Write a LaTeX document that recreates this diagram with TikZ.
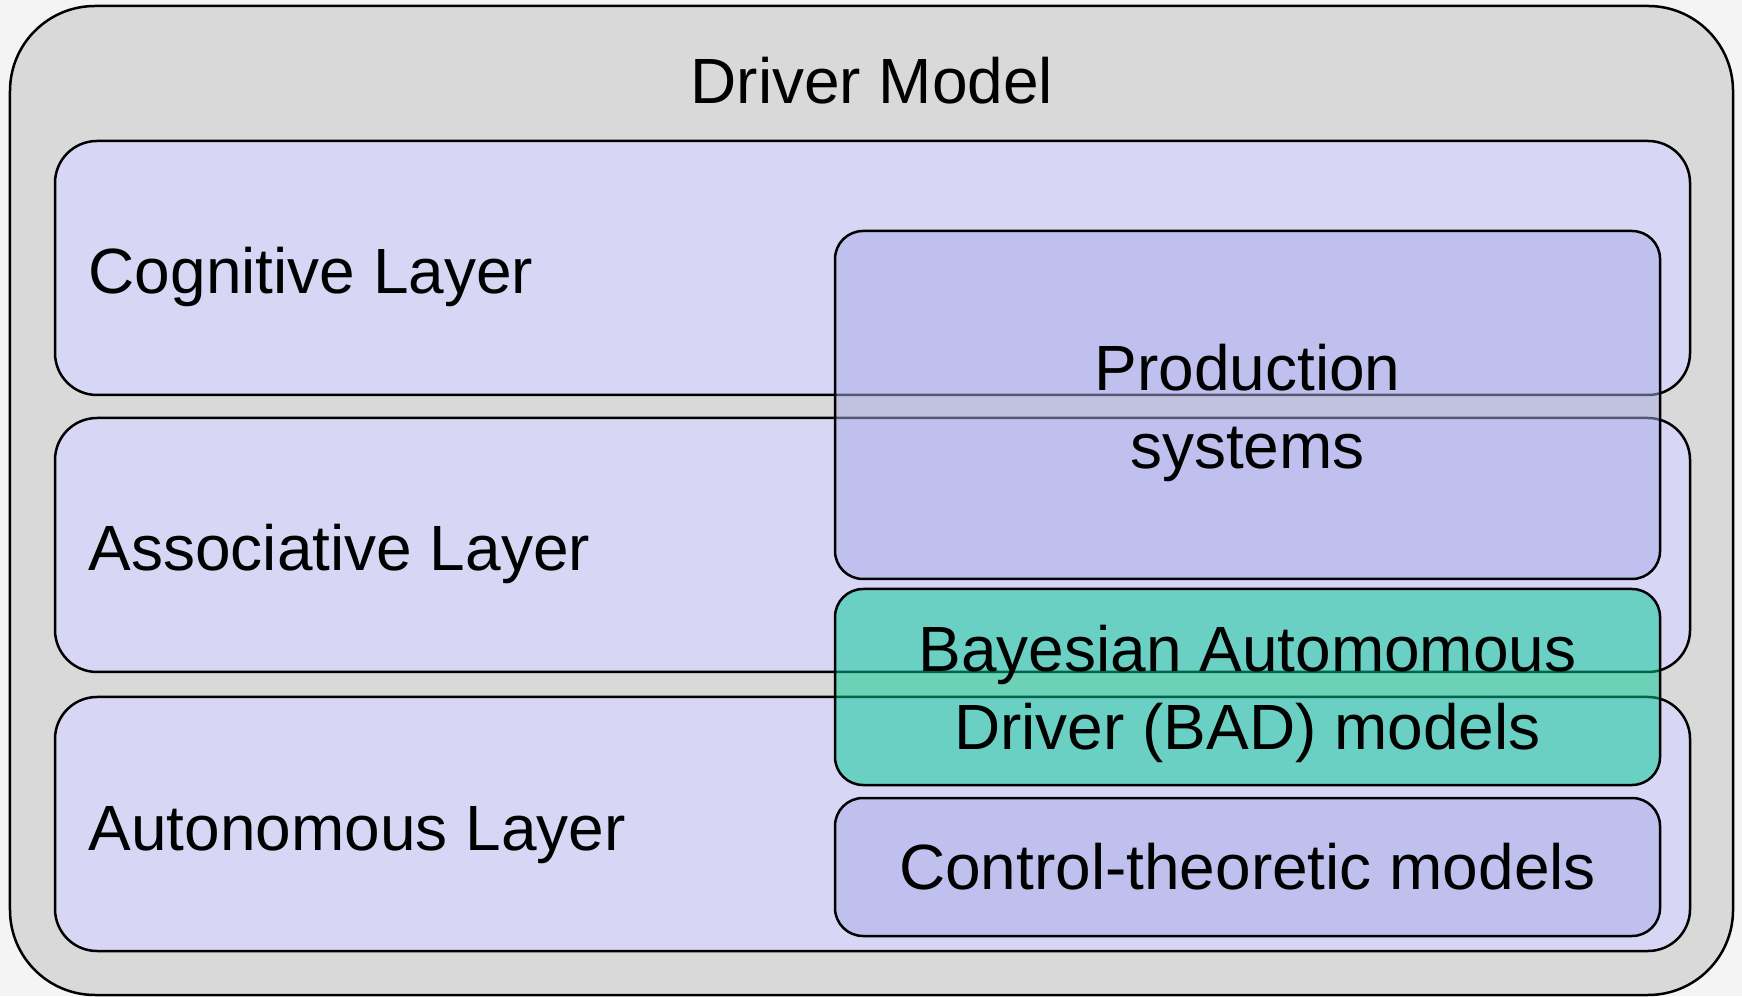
\documentclass[tikz,border=0pt]{standalone}
\usepackage{fontspec}
\setmainfont{Liberation Sans}
\definecolor{pagebg}{HTML}{F4F4F4}
\definecolor{drivergray}{HTML}{D9D9D9}
\definecolor{layerfill}{HTML}{D7D7F5}
\definecolor{modelfill}{HTML}{AAAAE8}
\definecolor{badfill}{HTML}{00CA94}

\begin{document}
\begin{tikzpicture}[
	every node/.style={font=\fontsize{18.2}{22.2}\selectfont},
	layer/.style={rectangle, rounded corners=0.42cm,
		minimum width=16.35cm, minimum height=2.54cm,
		draw=black, line width=0.25mm, fill=layerfill},
	layerlabel/.style={anchor=base west, inner sep=0pt},
	submodel/.style={rectangle, rounded corners=0.28cm,
		minimum width=8.25cm, draw=black, line width=0.25mm,
		fill=modelfill, fill opacity=0.5, text opacity=1, align=center}
	]
	\fill[pagebg] (0,0) rectangle (17.42,9.96);
	\node[rectangle, rounded corners=0.85cm,
	minimum width = 17.23cm,
	minimum height = 9.89cm, draw=black, line width=0.25mm, fill=drivergray] (driver) at(8.715,4.955){};
	\node[anchor=base] (title) at(8.72,8.92){Driver Model};
	% layers
	\node[layer] (cognitive) at(8.725,7.28){};
	\node[layer] (associative) at(8.725,4.51){};
	\node[layer] (autonomous) at(8.725,1.72){};
	\node[layerlabel] (coglabel) at(0.88,7.02){Cognitive Layer};
	\node[layerlabel] (assoclabel) at(0.88,4.25){Associative Layer};
	\node[layerlabel] (autolabel) at(0.88,1.46){Autonomous Layer};
	% models
	\node[submodel, minimum height=3.48cm] (production) at(12.475,5.91){};
	\node[submodel, minimum height=1.96cm, fill=badfill] (bad) at(12.475,3.09){};
	\node[submodel, minimum height=1.38cm] (control) at(12.475,1.29){Control-theoretic models};
	\node[align=center] (prodtext) at([yshift=-0.08cm]production.center){Production\\systems};
	\node[align=center] (badtext) at([yshift=-0.07cm]bad.center){Bayesian Automomous\\Driver (BAD) models};
\end{tikzpicture}
\end{document}
